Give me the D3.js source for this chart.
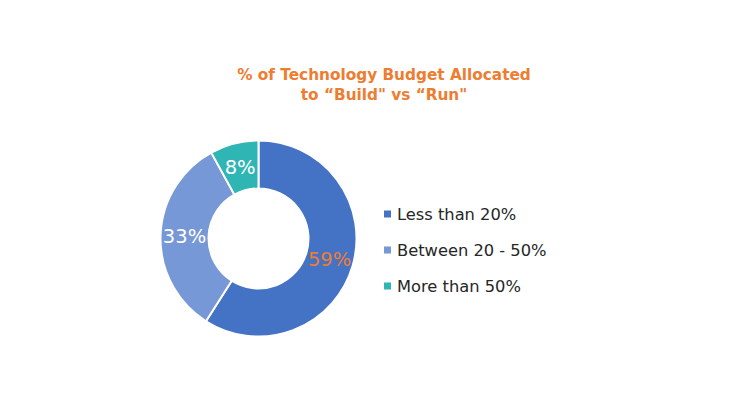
<!DOCTYPE html>
<html>
<head>
<meta charset="utf-8">
<script src="https://cdn.jsdelivr.net/npm/d3@7"></script>
<style>
  body { margin: 0; background: #fff; }
</style>
</head>
<body>
<div id="chart"></div>
<script>
var categories = ['Less than 20%', 'Between 20 - 50%', 'More than 50%'];
var values = [59, 33, 8];
var colors = ['#4472C4', '#7698D6', '#2FB6B4'];
var labelColors = ['#ED7D31', '#ffffff', '#ffffff'];
var titleLines = ['% of Technology Budget Allocated', 'to \u201cBuild" vs \u201cRun"'];

var width = 746, height = 414;
var cx = 258.5, cy = 238.5;
var outerR = 98, innerR = 50;
var mainFont = '"DejaVu Sans", sans-serif';

var svg = d3.select('#chart').append('svg')
    .attr('width', width)
    .attr('height', height);

svg.append('rect')
    .attr('width', width)
    .attr('height', height)
    .attr('fill', '#fff');

// title
svg.append('text')
    .attr('x', 384)
    .attr('y', 80)
    .attr('text-anchor', 'middle')
    .attr('font-family', mainFont)
    .attr('font-weight', 'bold')
    .attr('font-size', '15.3px')
    .attr('fill', '#ED7D31')
    .selectAll('tspan')
    .data(titleLines)
    .join('tspan')
    .attr('x', 384)
    .attr('dy', function(d, i) { return i === 0 ? 0 : 20; })
    .text(function(d) { return d; });

var pie = d3.pie().sort(null).value(function(d) { return d; });
var arc = d3.arc().innerRadius(innerR).outerRadius(outerR);
var arcs = pie(values);

var g = svg.append('g').attr('transform', 'translate(' + cx + ',' + cy + ')');

g.selectAll('path')
    .data(arcs)
    .join('path')
    .attr('d', arc)
    .attr('fill', function(d, i) { return colors[i]; })
    .attr('stroke', '#fff')
    .attr('stroke-width', 2);

g.selectAll('text.lbl')
    .data(arcs)
    .join('text')
    .attr('class', 'lbl')
    .attr('transform', function(d) { return 'translate(' + arc.centroid(d) + ')'; })
    .attr('dy', '0.36em')
    .attr('text-anchor', 'middle')
    .attr('font-family', mainFont)
    .attr('font-size', '19.5px')
    .attr('fill', function(d, i) { return labelColors[i]; })
    .text(function(d) { return d.data + '%'; });

// legend
var legendY = d3.scalePoint().domain(categories).range([214, 286]);
var legend = svg.append('g');
var items = legend.selectAll('g')
    .data(categories)
    .join('g')
    .attr('transform', function(d) { return 'translate(384,' + legendY(d) + ')'; });

items.append('rect')
    .attr('x', 0)
    .attr('y', -3.5)
    .attr('width', 7)
    .attr('height', 7)
    .attr('fill', function(d, i) { return colors[i]; });

items.append('text')
    .attr('x', 13)
    .attr('dy', '0.36em')
    .attr('font-family', mainFont)
    .attr('font-size', '16.3px')
    .attr('fill', '#262626')
    .text(function(d) { return d; });
</script>
</body>
</html>
